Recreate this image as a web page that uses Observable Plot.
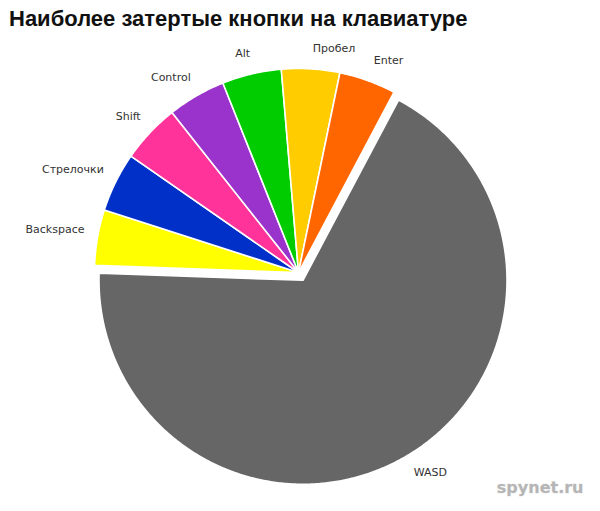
<!DOCTYPE html>
<html>
<head>
<meta charset="utf-8">
<script src="https://cdn.jsdelivr.net/npm/d3@7"></script>
<script src="https://cdn.jsdelivr.net/npm/@observablehq/plot@0.6"></script>
<style>
  html, body { margin: 0; padding: 0; background: #fff; }
  #title {
    height: 40px; box-sizing: border-box; padding: 8px 0 0 9px;
    font: bold 22px "Liberation Sans", Arial, sans-serif; line-height: 22px;
    color: #111; white-space: nowrap;
  }
  #chart svg { display: block; }
</style>
</head>
<body>
<div id="title"></div>
<div id="chart"></div>
<script>
// ---- data ----
const titleText = "Наиболее затертые кнопки на клавиатуре";
const keys = ["Backspace", "Стрелочки", "Shift", "Control", "Alt", "Пробел", "Enter", "WASD"];
const shares = [4.4, 4.7, 4.7, 4.6, 4.7, 4.6, 4.5, 67.8];
const sliceColors = ["#ffff00", "#0030c8", "#ff3399", "#9933cc", "#00cc00", "#ffcc00", "#ff6600", "#666666"];
const watermark = "spynet.ru";

document.getElementById("title").textContent = titleText;

// ---- layout ----
const W = 600, H = 471;
const R_PX = 204;           // pie radius in pixels
const CX = 298, CY = 232;   // pie centre in svg pixels
const EXPLODED = "WASD";
const EXPLODE_PX = 9;
const LABEL_R = 1.075;
const startAngle = -88 * Math.PI / 180;

const arcs = d3.pie().sort(null).value(d => d.v)
  .startAngle(startAngle).endAngle(startAngle + 2 * Math.PI)(keys.map((k, i) => ({k, v: shares[i]})));

const off = EXPLODE_PX / R_PX;
const slicePts = [];
const labelData = [];
for (const a of arcs) {
  const mid = (a.startAngle + a.endAngle) / 2;
  const e = a.data.k === EXPLODED ? off : 0;
  const ox = e * Math.sin(mid), oy = e * Math.cos(mid);
  slicePts.push({k: a.data.k, x: ox, y: oy});
  const n = Math.max(4, Math.ceil((a.endAngle - a.startAngle) / (Math.PI / 360)));
  for (let j = 0; j <= n; j++) {
    const t = a.startAngle + (a.endAngle - a.startAngle) * j / n;
    slicePts.push({k: a.data.k, x: ox + Math.sin(t), y: oy + Math.cos(t)});
  }
  labelData.push({
    k: a.data.k,
    x: ox + LABEL_R * Math.sin(mid),
    y: oy + LABEL_R * Math.cos(mid),
    left: Math.sin(mid) < 0,
    top: Math.cos(mid) > 0
  });
}

const labelStyle = {fontSize: 11, fontFamily: "DejaVu Sans", fill: "#333"};
const textMarks = [];
for (const left of [true, false]) for (const top of [true, false]) {
  textMarks.push(Plot.text(labelData.filter(d => d.left === left && d.top === top), {
    x: "x", y: "y", text: "k",
    textAnchor: left ? "end" : "start",
    lineAnchor: top ? "bottom" : "top",
    dx: left ? 2 : 1, dy: top ? -2 : -2,
    ...labelStyle
  }));
}

const chart = Plot.plot({
  width: W, height: H,
  marginTop: 0, marginRight: 0, marginBottom: 0, marginLeft: 0,
  x: {domain: [-CX / R_PX, (W - CX) / R_PX], axis: null},
  y: {domain: [-(H - CY) / R_PX, CY / R_PX], axis: null},
  color: {domain: keys, range: sliceColors},
  style: {background: "white"},
  marks: [
    Plot.line(slicePts, {
      x: "x", y: "y", z: "k", fill: "k",
      stroke: "white", strokeWidth: 1.6, strokeLinejoin: "round",
      curve: "linear-closed"
    }),
    ...textMarks,
    Plot.text([watermark], {
      frameAnchor: "bottom-right", dx: -17, dy: -24, lineAnchor: "middle", textAnchor: "end",
      fontSize: 16, fontWeight: "bold", fontFamily: "DejaVu Sans", fill: "#b5b5b5",
      stroke: "#eeeeee", strokeWidth: 1
    })
  ]
});
document.getElementById("chart").appendChild(chart);
</script>
</body>
</html>
